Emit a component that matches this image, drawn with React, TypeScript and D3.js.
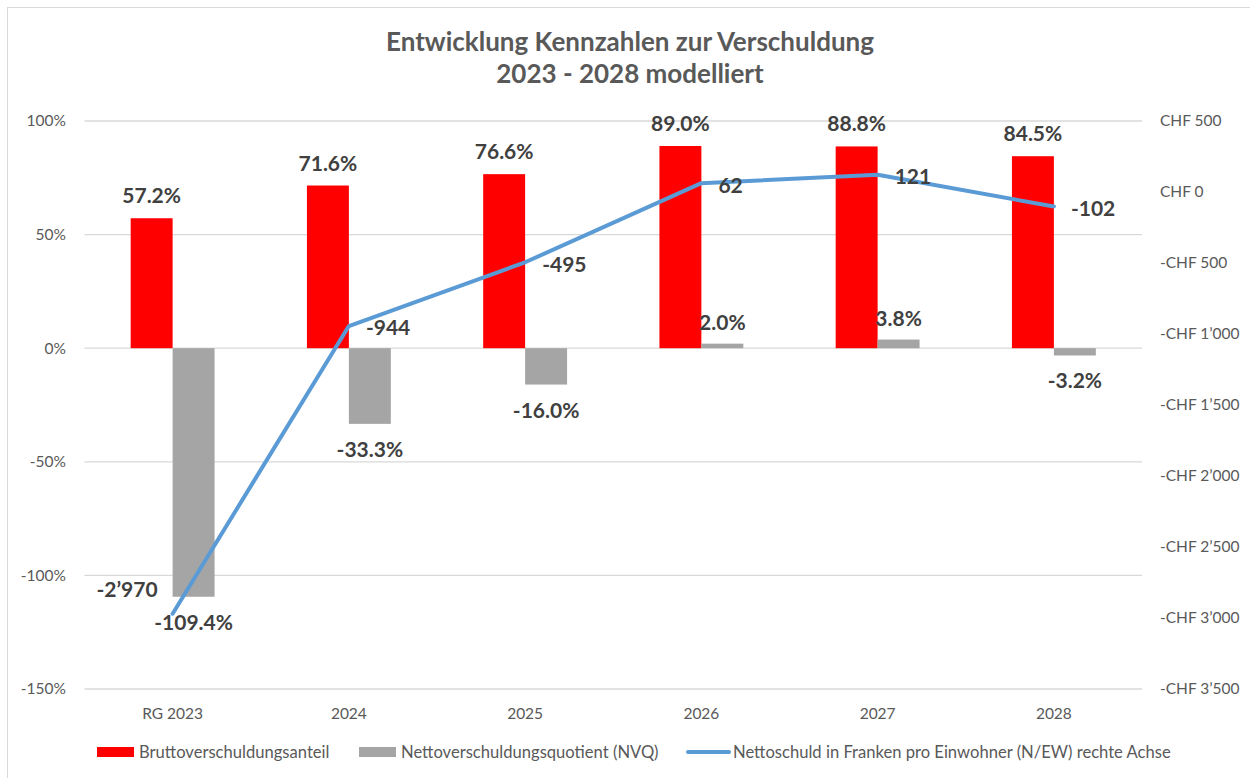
import React from "react";
import * as d3 from "d3";

const categories = ["RG 2023", "2024", "2025", "2026", "2027", "2028"];
const brutto = [57.2, 71.6, 76.6, 89.0, 88.8, 84.5];
const nvq = [-109.4, -33.3, -16.0, 2.0, 3.8, -3.2];
const nettoschuld = [-2970, -944, -495, 62, 121, -102];
const leftTicks = [100, 50, 0, -50, -100, -150];
const rightTicks = [500, 0, -500, -1000, -1500, -2000, -2500, -3000, -3500];
const legendItems = [
  { label: "Bruttoverschuldungsanteil", color: "#ff0000", kind: "rect" },
  { label: "Nettoverschuldungsquotient (NVQ)", color: "#a5a5a5", kind: "rect" },
  { label: "Nettoschuld in Franken pro Einwohner (N/EW) rechte Achse", color: "#5b9bd5", kind: "line" },
];

const W = 1250;
const H = 778;
const FONT = "Lato, 'Open Sans', sans-serif";
const plot = { left: 84.5, right: 1142, top: 121, bottom: 689 };

const thousands = (n: number) => {
  const s = Math.abs(Math.round(n)).toString();
  return s.replace(/\B(?=(\d{3})+(?!\d))/g, "\u2019");
};
const fmtChf = (n: number) => (n < 0 ? "-CHF " : "CHF ") + thousands(n);
const fmtNum = (n: number) => (n < 0 ? "-" : "") + thousands(n);

export default function App() {
  const x = d3.scaleBand<string>().domain(categories).range([plot.left, plot.right]).padding(0);
  const yL = d3.scaleLinear().domain([-150, 100]).range([plot.bottom, plot.top]);
  const yR = d3.scaleLinear().domain([-3500, 500]).range([plot.bottom, plot.top]);
  const bw = x.bandwidth() * 0.238;
  const cx = (c: string) => (x(c) as number) + x.bandwidth() / 2;

  const line = d3
    .line<number>()
    .x((_, i) => cx(categories[i]))
    .y((d) => yR(d));

  const labelStyle = { fontFamily: FONT, fontSize: 21, fontWeight: 700, fill: "#404040" } as const;
  const axisStyle = { fontFamily: FONT, fontSize: 15.5, fill: "#595959" } as const;

  return (
    <svg width={W} height={H} style={{ position: "absolute", left: 0, top: 0, background: "#fff" }}>
      <rect x={7.5} y={7.5} width={W} height={H} fill="#fff" stroke="#d9d9d9" strokeWidth={1} />
      {/* Title */}
      <text x={630} y={51} textAnchor="middle" style={{ fontFamily: FONT, fontSize: 26, fontWeight: 700, fill: "#595959" }}>
        Entwicklung Kennzahlen zur Verschuldung
      </text>
      <text x={630} y={83} textAnchor="middle" style={{ fontFamily: FONT, fontSize: 26, fontWeight: 700, fill: "#595959" }}>
        2023 - 2028 modelliert
      </text>

      {/* Gridlines */}
      {leftTicks.map((t) => (
        <line key={t} x1={plot.left} x2={plot.right} y1={yL(t)} y2={yL(t)} stroke="#d9d9d9" strokeWidth={1.3} />
      ))}
      {/* Left axis labels */}
      {leftTicks.map((t) => (
        <text key={"l" + t} x={66} y={yL(t)} dy="0.35em" textAnchor="end" style={axisStyle}>
          {t}%
        </text>
      ))}
      {/* Right axis labels */}
      {rightTicks.map((t) => (
        <text key={"r" + t} x={1160} y={yR(t)} dy="0.35em" textAnchor="start" style={axisStyle}>
          {fmtChf(t)}
        </text>
      ))}
      {/* Category labels */}
      {categories.map((c) => (
        <text key={"c" + c} x={cx(c)} y={714} dy="0.35em" textAnchor="middle" style={axisStyle}>
          {c}
        </text>
      ))}

      {/* Bars */}
      {categories.map((c, i) => {
        const mid = cx(c);
        const rTop = yL(Math.max(0, brutto[i]));
        const rH = Math.abs(yL(brutto[i]) - yL(0));
        const g = nvq[i];
        const gTop = yL(Math.max(0, g));
        const gH = Math.abs(yL(g) - yL(0));
        return (
          <g key={"b" + c}>
            <rect x={mid - bw} y={rTop} width={bw} height={rH} fill="#ff0000" />
            <rect x={mid} y={gTop} width={bw} height={gH} fill="#a5a5a5" />
          </g>
        );
      })}

      {/* Line */}
      <path d={line(nettoschuld) || ""} fill="none" stroke="#5b9bd5" strokeWidth={4} strokeLinejoin="round" strokeLinecap="round" />

      {/* Bar labels */}
      {categories.map((c, i) => {
        const mid = cx(c);
        const g = nvq[i];
        const gy = g >= 0 ? yL(g) - 14 : yL(g) + 33;
        return (
          <g key={"lb" + c}>
            <text x={mid - bw / 2} y={yL(brutto[i]) - 15} textAnchor="middle" style={labelStyle}>
              {brutto[i].toFixed(1)}%
            </text>
            <text x={mid + bw / 2} y={gy} textAnchor="middle" style={labelStyle}>
              {g.toFixed(1)}%
            </text>
          </g>
        );
      })}

      {/* Line labels */}
      {categories.map((c, i) => {
        const px = cx(c);
        const py = yR(nettoschuld[i]);
        const first = i === 0;
        return (
          <text
            key={"ll" + c}
            x={first ? px - 15 : px + 17}
            y={first ? py - 24 : py + 2}
            dy="0.35em"
            textAnchor={first ? "end" : "start"}
            style={labelStyle}
          >
            {fmtNum(nettoschuld[i])}
          </text>
        );
      })}

      {/* Legend */}
      {(() => {
        const starts = [97, 359, 688];
        return legendItems.map((it, i) => (
          <g key={"lg" + i} transform={`translate(${starts[i]},752)`}>
            {it.kind === "rect" ? (
              <rect x={0} y={-5} width={37} height={10} fill={it.color} />
            ) : (
              <line x1={0} x2={41} y1={0} y2={0} stroke={it.color} strokeWidth={4} strokeLinecap="round" />
            )}
            <text x={it.kind === "rect" ? 42 : 45} y={0} dy="0.35em" style={{ fontFamily: FONT, fontSize: 16.6, fill: "#595959" }}>
              {it.label}
            </text>
          </g>
        ));
      })()}
    </svg>
  );
}
